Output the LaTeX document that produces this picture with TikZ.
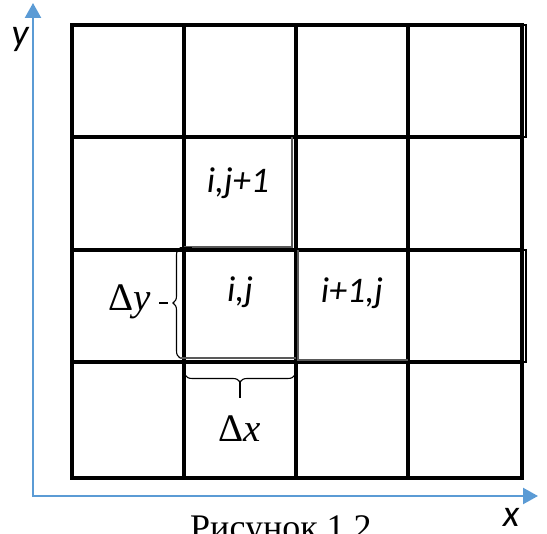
\documentclass[tikz,border=0pt]{standalone}
\usepackage{fontspec}
\setmainfont{Liberation Serif}
\newfontfamily\calib{Carlito}
\usetikzlibrary{arrows.meta,decorations.pathreplacing}
\definecolor{axisblue}{RGB}{91,155,213}
\begin{document}
\begin{tikzpicture}[x=1pt,y=-1pt,
  gridline/.style={line width=3.2pt, line cap=rect},
  thinbox/.style={line width=1.3pt, draw=black!65},
  axis/.style={line width=2.4pt, draw=axisblue, line join=miter,
    {Triangle[length=15pt,width=16pt,fill=axisblue]}-{Triangle[length=15pt,width=16pt,fill=axisblue]}},
  celltext/.style={font=\calib\itshape\fontsize{36}{40}\selectfont},
  axistext/.style={font=\calib\itshape\fontsize{38}{42}\selectfont},
  deltatext/.style={font=\fontsize{39}{43}\selectfont},
  bracepath/.style={decorate, decoration={brace,amplitude=7pt}, line width=1.1pt}]
\useasboundingbox (0,0) rectangle (547,534);
% axes
\coordinate (origin) at (33,496);
\coordinate (ytop) at (33,3);
\coordinate (xend) at (538,496);
\draw[axis] (ytop) -- (origin) -- (xend);
\node[axistext] (ylabel) at (20,39) {y};
\node[axistext] (xlabel) at (511,517) {x};
% grid
\foreach \xx in {72,184,296,408,522}
  \draw[gridline] (\xx,25) -- (\xx,478);
\foreach \yy in {25,137,250,362,478}
  \draw[gridline] (72,\yy) -- (522,\yy);
\draw[line width=2.2pt] (522,25) -| (526,137) -- (522,137);
\draw[line width=2.2pt] (522,250) -| (526,362) -- (522,362);
% thin frames
\draw[thinbox] (184,247) -- (292,247) -- (292,137);
\draw[thinbox] (298,250) -- (298,360) -- (408,360);
% cell labels
\node[celltext] (cellup) at (238,183) {i,j+1};
\node[celltext] (cellij) at (240,292) {i,j};
\node[celltext] (cellright) at (352,293) {i+1,j};
% brace for dy
\coordinate (dybot) at (180,358);
\coordinate (dytop) at (180,248);
\draw[bracepath] (dybot) -- (dytop);
\draw[line width=1.1pt] (dytop) -- ++(12,0);
\draw[line width=1.1pt,draw=black!65] (dybot) -- ++(116,0);
\node[deltatext, anchor=east] (dy) at (154,302) {Δ\textit{y}};
\draw[line width=1.3pt] (dy.east) ++(5,1) -- ++(9,0);
% brace for dx
\coordinate (dxright) at (295,375);
\coordinate (dxleft) at (185,375);
\draw[bracepath] (dxright) -- (dxleft);
\coordinate (dxtip) at (240,382);
\draw[line width=1.3pt] (dxtip) -- (240,398);
\node[deltatext] (dx) at (240,429) {Δ\textit{x}};
% caption
\node[font=\fontsize{36}{40}\selectfont, anchor=base] (caption) at (281,540) {Рисунок 1.2};
\end{tikzpicture}
\end{document}
